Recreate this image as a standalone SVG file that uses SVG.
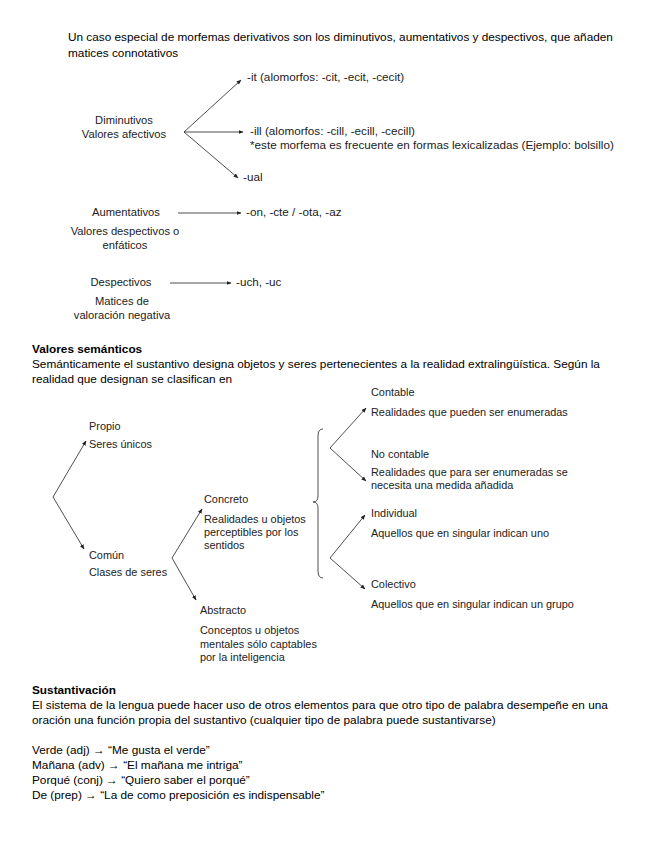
<svg xmlns="http://www.w3.org/2000/svg" width="655" height="848" viewBox="0 0 655 848">
<style>
text{font-family:"Liberation Sans",Arial,sans-serif;fill:#000}
.b{font-size:11.8px}
.h{font-size:11.8px;font-weight:bold}
.d{font-size:11.2px;fill:#222}
.r{font-size:11.7px;fill:#222}
.t{font-size:10.9px;fill:#222}
.m{text-anchor:middle}
.c line,.c path{stroke:#222;stroke-width:0.8;fill:none}
</style>
<defs>
<marker id="ah" viewBox="0 0 10 10" refX="9" refY="5" markerWidth="5" markerHeight="5" orient="auto" markerUnits="userSpaceOnUse">
<path d="M0,1 L10,5 L0,9 z" fill="#222"/>
</marker>
</defs>
<rect width="655" height="848" fill="#fff"/>
<g id="intro">
<text class="b" x="68" y="41">Un caso especial de morfemas derivativos son los diminutivos, aumentativos y despectivos, que añaden</text>
<text class="b" x="68" y="57">matices connotativos</text>
</g>
<g id="diminutivos"><text class="d m" x="124" y="124">Diminutivos</text><text class="d m" x="124" y="138">Valores afectivos</text></g>
<g id="it"><text class="r" x="247" y="81">-it (alomorfos: -cit, -ecit, -cecit)</text></g>
<g id="ill"><text class="r" x="250" y="135">-ill (alomorfos: -cill, -ecill, -cecill)</text><text class="r" x="250" y="149">*este morfema es frecuente en formas lexicalizadas (Ejemplo: bolsillo)</text></g>
<g id="ual"><text class="r" x="243" y="181">-ual</text></g>
<g id="aumentativos"><text class="d m" x="126" y="216">Aumentativos</text><text class="d m" x="125" y="235">Valores despectivos o</text><text class="d m" x="125" y="249">enfáticos</text></g>
<g id="on"><text class="r" x="246" y="216">-on, -cte / -ota, -az</text></g>
<g id="despectivos"><text class="d m" x="121" y="286">Despectivos</text><text class="d m" x="122" y="305">Matices de</text><text class="d m" x="122" y="319">valoración negativa</text></g>
<g id="uch"><text class="r" x="236" y="286">-uch, -uc</text></g>
<g id="semanticos">
<text class="h" x="32" y="353">Valores semánticos</text>
<text class="b" x="32" y="368">Semánticamente el sustantivo designa objetos y seres pertenecientes a la realidad extralingüística. Según la</text>
<text class="b" x="32" y="383">realidad que designan se clasifican en</text>
</g>
<g id="propio"><text class="t" x="89" y="430">Propio</text><text class="t" x="89" y="448">Seres únicos</text></g>
<g id="comun"><text class="t" x="89" y="559">Común</text><text class="t" x="89" y="576">Clases de seres</text></g>
<g id="concreto"><text class="t" x="204" y="503">Concreto</text><text class="t" x="204" y="523">Realidades u objetos</text><text class="t" x="204" y="536">perceptibles por los</text><text class="t" x="204" y="549">sentidos</text></g>
<g id="abstracto"><text class="t" x="200" y="614">Abstracto</text><text class="t" x="200" y="634">Conceptos u objetos</text><text class="t" x="200" y="648">mentales sólo captables</text><text class="t" x="200" y="661">por la inteligencia</text></g>
<g id="contable"><text class="t" x="371" y="396">Contable</text><text class="t" x="371" y="416">Realidades que pueden ser enumeradas</text></g>
<g id="nocontable"><text class="t" x="371" y="458">No contable</text><text class="t" x="371" y="476">Realidades que para ser enumeradas se</text><text class="t" x="371" y="489">necesita una medida añadida</text></g>
<g id="individual"><text class="t" x="371" y="517">Individual</text><text class="t" x="371" y="537">Aquellos que en singular indican uno</text></g>
<g id="colectivo"><text class="t" x="371" y="588">Colectivo</text><text class="t" x="371" y="608">Aquellos que en singular indican un grupo</text></g>
<g id="sustantivacion">
<text class="h" x="32" y="694">Sustantivación</text>
<text class="b" x="32" y="709">El sistema de la lengua puede hacer uso de otros elementos para que otro tipo de palabra desempeñe en una</text>
<text class="b" x="32" y="724">oración una función propia del sustantivo (cualquier tipo de palabra puede sustantivarse)</text>
<text class="b" x="32" y="754">Verde (adj) → “Me gusta el verde”</text>
<text class="b" x="32" y="769">Mañana (adv) → “El mañana me intriga”</text>
<text class="b" x="32" y="784">Porqué (conj) → “Quiero saber el porqué”</text>
<text class="b" x="32" y="799">De (prep) → “La de como preposición es indispensable”</text>
</g>
<g id="connectors" class="c">
<line x1="184" y1="132" x2="241" y2="80" marker-end="url(#ah)"/>
<line x1="184" y1="132" x2="243" y2="132" marker-end="url(#ah)"/>
<line x1="184" y1="132" x2="238" y2="178" marker-end="url(#ah)"/>
<line x1="178" y1="213" x2="241" y2="213" marker-end="url(#ah)"/>
<line x1="170" y1="283" x2="231" y2="283" marker-end="url(#ah)"/>
<line x1="53" y1="497" x2="86" y2="441" marker-end="url(#ah)"/>
<line x1="53" y1="497" x2="84" y2="549" marker-end="url(#ah)"/>
<line x1="172" y1="558" x2="202" y2="509" marker-end="url(#ah)"/>
<line x1="172" y1="558" x2="196" y2="600" marker-end="url(#ah)"/>
<path d="M323,429 Q318,429 318,436 L318,496 Q318,502 313,502 Q318,502 318,508 L318,571 Q318,578 323,578"/>
<line x1="330" y1="448" x2="366" y2="408" marker-end="url(#ah)"/>
<line x1="330" y1="448" x2="366" y2="481" marker-end="url(#ah)"/>
<line x1="330" y1="558" x2="365" y2="515" marker-end="url(#ah)"/>
<line x1="330" y1="558" x2="365" y2="589" marker-end="url(#ah)"/>
</g>
</svg>
